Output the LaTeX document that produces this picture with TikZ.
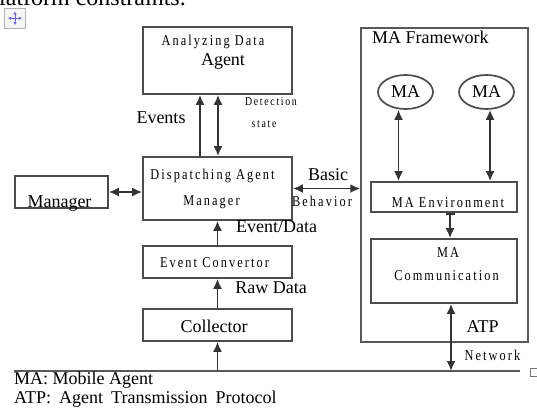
\documentclass[tikz,border=0pt]{standalone}
\usepackage{fontspec}
\setmainfont{Liberation Serif}
\newfontfamily\narrowfont[FakeStretch=0.82,LetterSpace=14]{Liberation Serif}
\usetikzlibrary{arrows.meta,positioning,shapes.geometric}
\tikzset{%
  >={Latex[width=9pt,length=10pt]},
  % Specifications for style of nodes:
       base/.style = {rectangle, draw=black!70, line width=1.7pt, inner sep=0pt},
      agent/.style = {base, minimum width=149pt},
      frame/.style = {base, draw=black!65, line width=1.5pt},
     mobile/.style = {ellipse, draw=black!70, line width=1.7pt, inner sep=0pt,
                      minimum width=55pt, minimum height=34pt,
                      font=\fontsize{18}{20}\selectfont},
        txt/.style = {inner sep=0pt, anchor=base, font=\fontsize{18}{20}\selectfont},
     spaced/.style = {inner sep=0pt, anchor=base, font=\narrowfont\fontsize{15}{16}\selectfont},
   smalltxt/.style = {spaced, font=\narrowfont\fontsize{12}{14}\selectfont},
       link/.style = {line width=1.8pt, draw=black!80}
}
\begin{document}
\begin{tikzpicture}[x=1pt, y=-1pt]
  \clip (0,0) rectangle (537,410);
  \useasboundingbox (0,0) rectangle (537,410);

  % page remains above the figure
  \node (pagetext) [anchor=base east, inner sep=0pt, font=\fontsize{24}{26}\selectfont] at (186,5) {platform constraints.};
  \draw[black!30, fill=black!4] (4.5,8.5) rectangle (25.5,28);
  \draw[blue!60, line width=1pt, {Latex[width=3.5pt,length=3pt]}-{Latex[width=3.5pt,length=3pt]}] (8,18.2) -- (22,18.2);
  \draw[blue!60, line width=1pt, {Latex[width=3.5pt,length=3pt]}-{Latex[width=3.5pt,length=3pt]}] (15,11.5) -- (15,25);

  % boxes
  \node (analyzing) [agent, minimum height=67pt] at (217.5,60.5) {};
  \node (dispatch)  [agent, minimum height=63pt] at (217.5,188.5) {};
  \node (convertor) [agent, minimum height=32pt] at (217.5,262) {};
  \node (collector) [agent, minimum height=32pt] at (217.5,325) {};
  \node (manager)   [base, minimum width=93pt, minimum height=32pt] at (61.5,192) {};
  \node (framework) [frame, minimum width=167pt, minimum height=314pt] at (444.5,185) {};
  \node (maenv)     [base, minimum width=146pt, minimum height=30pt] at (444,197) {};
  \node (macomm)    [base, minimum width=146pt, minimum height=64pt] at (444,271) {};
  \node (ma1) [mobile] at (405.5,92) {MA};
  \node (ma2) [mobile] at (486.5,92) {MA};

  % texts in the boxes
  \node (adtext)   [spaced] at (213,45) {Analyzing Data};
  \node (agtext)   [txt] at (223,65) {Agent};
  \node (dptext)   [spaced] at (212.5,179) {Dispatching Agent};
  \node (dmtext)   [spaced] at (211.5,205) {Manager};
  \node (mgtext)   [txt] at (59.5,207) {Manager};
  \node (ectext)   [spaced] at (214.5,267) {Event Convertor};
  \node (cltext)   [txt] at (214,332) {Collector};
  \node (fwtext)   [txt, anchor=base west] at (372,43) {MA Framework};
  \node (envtext)  [spaced] at (448,207) {MA Environment};
  \node (comtext1) [spaced] at (448,257) {MA};
  \node (comtext2) [spaced] at (446.5,280) {Communication};

  % connectors
  \draw[->, link]  ([xshift=-17.5pt]dispatch.north) -- ([xshift=-17.5pt]analyzing.south);
  \draw[<->, link] ([xshift=0.5pt]analyzing.south) -- ([xshift=0.5pt]dispatch.north);
  \draw[<->, link] (manager.east) -- (manager.east -| dispatch.west);
  \draw[<->, link] (dispatch.east) -- (dispatch.east -| framework.west);
  \draw[->, link]  (convertor) -- (dispatch);
  \draw[->, link]  (collector) -- (convertor);
  \coordinate (netwest) at (14,371);
  \coordinate (neteast) at (520,371);
  \draw[link, draw=black!65] (netwest) -- (neteast);
  \draw[black!55] (530,368) rectangle (540,376);
  \draw[->, link]  (collector.south |- netwest) -- (collector.south);
  \draw[<->, link] ([xshift=-7pt]ma1.south) -- ([xshift=-7pt]ma1.south |- maenv.north);
  \draw[<->, link] ([xshift=3.5pt]ma2.south) -- ([xshift=3.5pt]ma2.south |- maenv.north);
  \draw[link, arrows={Bar[width=9pt]-Latex[width=9pt,length=10pt]}] ([xshift=6pt]maenv.south) -- ([xshift=6pt]macomm.north);
  \draw[<->, link] ([xshift=7pt]macomm.south) -- ([xshift=7pt]macomm.south |- netwest);

  % connector labels
  \node (events)   [txt] at (161,123) {Events};
  \node (detect)   [smalltxt] at (271,105) {Detection};
  \node (state)    [smalltxt] at (264,127) {state};
  \node (basic)    [txt] at (328,180) {Basic};
  \node (behavior) [spaced] at (322,206) {Behavior};
  \node (evdata)   [txt] at (276.5,232) {Event/Data};
  \node (rawdata)  [txt] at (271,293) {Raw Data};
  \node (atp)      [txt] at (482.5,332) {ATP};
  \node (network)  [spaced] at (492.5,360) {Network};

  % legend
  \node (legma)  [txt, anchor=base west] at (14,384) {MA: Mobile Agent};
  \node (legatp) [txt, anchor=base west] at (14,403) {\spaceskip=8pt\relax ATP: Agent Transmission Protocol};
\end{tikzpicture}
\end{document}
